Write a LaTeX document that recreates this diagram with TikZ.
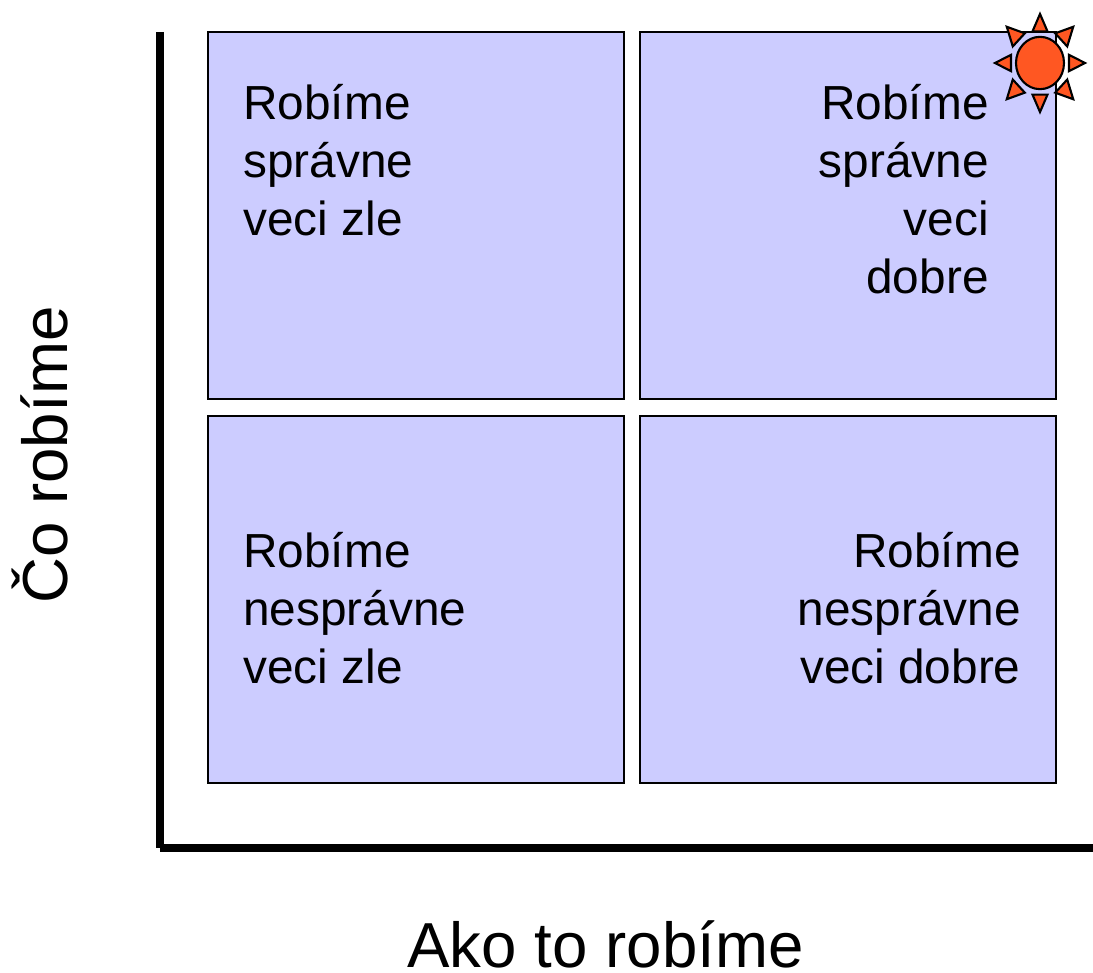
\documentclass[tikz,border=0pt]{standalone}
\usepackage{fontspec}
\setmainfont{Liberation Sans}
\usepackage{xcolor}
\definecolor{boxfill}{HTML}{CCCCFF}
\definecolor{sunfill}{HTML}{FF5722}
\usetikzlibrary{positioning,calc}
\tikzset{
    quadrant/.style={draw, line width=1.2pt, fill=boxfill, inner sep=0pt, minimum width=416*0.02cm, minimum height=367*0.02cm, anchor=north west},
    quadtext/.style={font=\fontsize{27.2}{33}\selectfont, inner sep=0pt},
    axislabel/.style={font=\fontsize{36.2}{43}\selectfont, inner sep=0pt},
    axisline/.style={line width=4.5pt},
    sunpart/.style={draw, line width=1.2pt, fill=sunfill}
}
\begin{document}
\begin{tikzpicture}[x=0.02cm, y=-0.02cm]
    \useasboundingbox (0,0) rectangle (1093,973);

    % Axes
    \coordinate (top) at (160,32);
    \coordinate (corner) at (160,848);
    \coordinate (right) at (1093,848);
    \draw[axisline] (top) -- (corner);
    \draw[axisline] (corner) -- (right);

    % Quadrants
    \node[quadrant] (tl) at (207,31) {};
    \node[quadrant] (tr) at (639,31) {};
    \node[quadrant] (bl) at (207,415) {};
    \node[quadrant] (br) at (639,415) {};

    % Texts of the quadrants
    \node[quadtext, anchor=north west, align=left] (tltext) at (243,84) {Robíme\\správne\\veci zle};
    \node[quadtext, anchor=north east, align=right] (trtext) at (989,84) {Robíme\\správne\\veci\\dobre};
    \node[quadtext, anchor=north west, align=left] (bltext) at (243,532) {Robíme\\nesprávne\\veci zle};
    \node[quadtext, anchor=north east, align=right] (brtext) at (1021,532) {Robíme\\nesprávne\\veci dobre};

    % Axis labels
    \node[axislabel, anchor=base] (xlabel) at (605.5,967) {Ako to robíme};
    \node[axislabel, anchor=base, rotate=90] (ylabel) at (68,455) {Čo robíme};

    % Sun
    \begin{scope}[shift={(1040,63)}, yscale=1.09]
        \foreach \a/\b/\t/\w in {0/29/45/7.5,45/30/47/8.5,90/29/45/7.5,135/30/47/8.5,180/29/45/7.5,225/30/47/8.5,270/29/45/7.5,315/30/47/8.5} {
            \draw[sunpart, rotate=\a] (\b,-\w) -- (\t,0) -- (\b,\w) -- cycle;
        }
        \draw[sunpart] (0,0) circle (24);
    \end{scope}
\end{tikzpicture}
\end{document}
